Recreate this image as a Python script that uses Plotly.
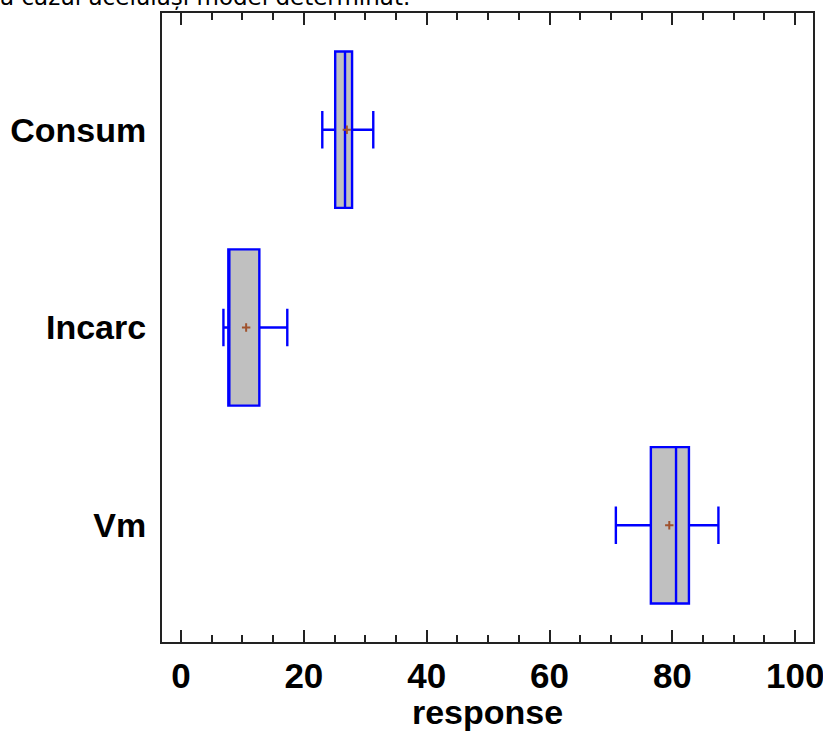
import plotly.graph_objects as go

# Box-and-whisker summaries for each factor
categories = ["Consum", "Incarc", "Vm"]
lower = [23.0, 6.9, 70.8]
q1 = [25.1, 7.7, 76.5]
median = [26.7, 7.7, 80.6]
q3 = [27.85, 12.75, 82.7]
upper = [31.3, 17.3, 87.5]
means = [27.0, 10.6, 79.5]

x_ticks = [0, 20, 40, 60, 80, 100]

FONT = "Liberation Sans, Arial, sans-serif"

fig = go.Figure()

fig.add_trace(go.Box(
    orientation="h",
    y=categories,
    q1=q1,
    median=median,
    q3=q3,
    lowerfence=lower,
    upperfence=upper,
    width=0.79,
    whiskerwidth=0.24,
    fillcolor="#C0C0C0",
    line=dict(color="#0000FF", width=2.4),
    boxpoints=False,
    hoverinfo="skip",
    showlegend=False,
))

fig.add_trace(go.Scatter(
    x=means,
    y=categories,
    mode="markers",
    marker=dict(symbol="cross-thin", size=6,
                line=dict(color="#A0522D", width=2)),
    hoverinfo="skip",
    showlegend=False,
))

fig.update_layout(
    width=823,
    height=731,
    margin=dict(l=162, r=10, t=13, b=89),
    paper_bgcolor="white",
    plot_bgcolor="white",
    font=dict(family=FONT, color="black"),
    xaxis=dict(
        range=[-3.1, 102.9],
        tickvals=x_ticks,
        ticktext=[str(v) for v in x_ticks],
        ticks="inside",
        ticklen=12,
        tickwidth=2,
        tickcolor="#222222",
        minor=dict(ticks="inside", dtick=5, ticklen=7, tickwidth=1.5,
                   tickcolor="#222222", showgrid=False),
        showline=True,
        linecolor="#222222",
        linewidth=2,
        mirror="allticks",
        showgrid=False,
        zeroline=False,
        automargin=False,
        ticklabeloverflow="allow",
        ticklabelstandoff=2,
        tickfont=dict(family=FONT, size=35, color="black", weight="bold"),
        title=dict(text="<b>response</b>",
                   font=dict(family=FONT, size=34, color="black"),
                   standoff=4),
    ),
    yaxis=dict(
        type="category",
        categoryorder="array",
        categoryarray=categories,
        range=[2.59, -0.59],
        showline=True,
        linecolor="#222222",
        linewidth=2,
        mirror=True,
        ticks="",
        showgrid=False,
        zeroline=False,
        automargin=False,
        ticklabelstandoff=7,
        tickfont=dict(family=FONT, size=34, color="black", weight="bold"),
    ),
    annotations=[
        dict(
            text="a cazul aceluiași model determinat.",
            xref="paper", yref="paper",
            x=-164 / 651, y=1.0016,
            xanchor="left", yanchor="bottom",
            showarrow=False,
            font=dict(family="DejaVu Sans, Verdana, sans-serif", size=23,
                      color="black"),
        )
    ],
)

fig.write_html("out.html")
